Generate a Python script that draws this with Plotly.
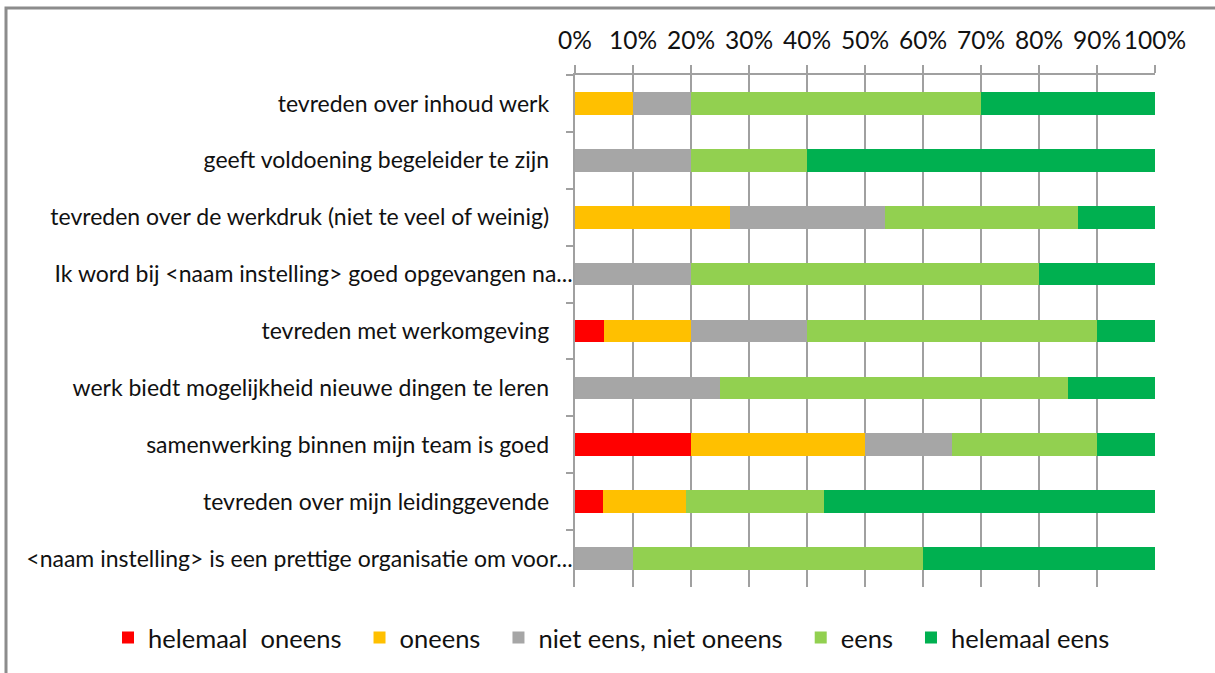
import plotly.graph_objects as go

categories = [
    "tevreden over inhoud werk",
    "geeft voldoening begeleider te zijn",
    "tevreden over de werkdruk (niet te veel of weinig)",
    "Ik word bij <naam instelling> goed opgevangen na...",
    "tevreden met werkomgeving",
    "werk biedt mogelijkheid nieuwe dingen te leren",
    "samenwerking binnen mijn team is goed",
    "tevreden over mijn leidinggevende",
    "<naam instelling> is een prettige organisatie om voor...",
]
series_names = ["helemaal  oneens", "oneens", "niet eens, niet oneens", "eens", "helemaal eens"]
helemaal_oneens = [0, 0, 0, 0, 5, 0, 20, 4.8, 0]
oneens = [10, 0, 26.7, 0, 15, 0, 30, 14.3, 0]
neutraal = [10, 20, 26.7, 20, 20, 25, 15, 0, 10]
eens = [50, 20, 33.3, 60, 50, 60, 25, 23.8, 50]
helemaal_eens = [30, 60, 13.3, 20, 10, 15, 10, 57.1, 40]
tick_vals = [0, 0.1, 0.2, 0.3, 0.4, 0.5, 0.6, 0.7, 0.8, 0.9, 1.0]
tick_text = ["0%", "10%", "20%", "30%", "40%", "50%", "60%", "70%", "80%", "90%", "100%"]

colors = ["#FF0000", "#FFC000", "#A6A6A6", "#92D050", "#00B050"]
series_values = [helemaal_oneens, oneens, neutraal, eens, helemaal_eens]

# trailing padding for non-truncated labels (Excel-like spacing)
labels = [c if c.endswith("...") else c + "\u00a0" * 4 for c in categories]

fig = go.Figure()
for name, vals, col in zip(series_names, series_values, colors):
    fig.add_trace(go.Bar(
        y=labels, x=[v / 100 for v in vals], name=name + "\u00a0" * 2, orientation="h",
        marker=dict(color=col, line=dict(width=0)), hoverinfo="skip",
    ))

W, H = 1215, 673
L, R, T, B = 575, 1155, 75, 587
PW, PH = R - L, B - T
fig.update_layout(
    width=W, height=H,
    barmode="stack", bargap=0.6,
    margin=dict(l=L, r=W - R, t=T, b=H - B, autoexpand=False),
    paper_bgcolor="white", plot_bgcolor="white",
    font=dict(family="Lato, Open Sans, sans-serif", size=23, color="#111111"),
    showlegend=True,
    legend=dict(orientation="h", xref="paper", x=(108 - L) / PW, xanchor="left",
                yref="paper", y=-(638 - B) / PH, yanchor="middle",
                font=dict(size=25.5, color="#111111"), traceorder="normal",
                itemwidth=30, bgcolor="rgba(0,0,0,0)"),
    xaxis=dict(side="top", range=[0, 1], tickvals=tick_vals, ticktext=tick_text,
               tickfont=dict(size=24.5),
               showgrid=True, gridcolor="#A0A0A0", gridwidth=1.5,
               showline=True, linecolor="#A0A0A0", linewidth=1.5,
               ticks="outside", ticklen=8, tickcolor="#A0A0A0", tickwidth=1.5,
               zeroline=False, fixedrange=True, ticklabelstandoff=6),
    yaxis=dict(autorange="reversed", showline=True, linecolor="#A0A0A0", linewidth=1.5,
               ticks="outside", ticklen=7, tickcolor="#A0A0A0", tickwidth=1.5,
               tickson="boundaries", showgrid=False, fixedrange=True,
               ticklabelstandoff=-4),
    shapes=[dict(type="rect", xref="paper", yref="paper",
                 x0=(6 - L) / PW, x1=(W + 20 - L) / PW,
                 y0=(B - (H + 20)) / PH, y1=(B - 8) / PH,
                 line=dict(color="#8C8C8C", width=3), fillcolor="rgba(0,0,0,0)",
                 layer="below")],
)
fig.write_html("out.html", config={"displayModeBar": False},
               post_script="document.body.style.margin='0';")
